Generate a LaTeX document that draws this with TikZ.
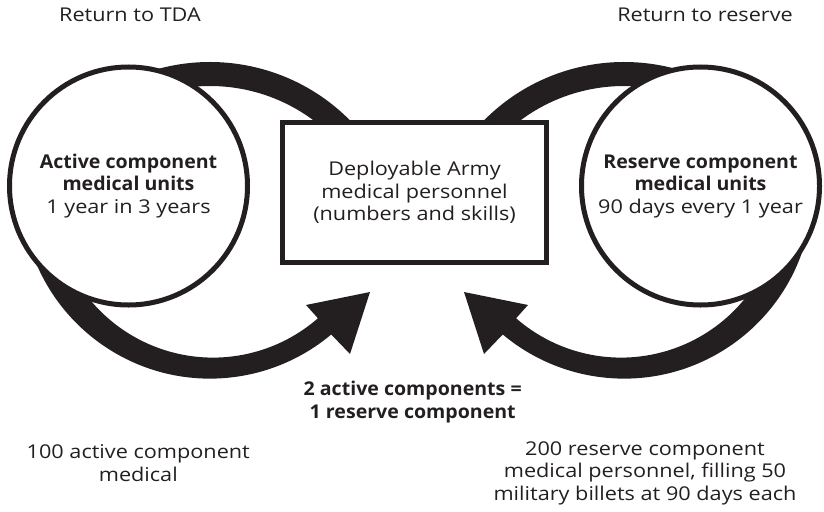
\documentclass[tikz,border=0pt]{standalone}
\usepackage{fontspec}
\setmainfont{Open Sans}[UprightFeatures={FakeStretch=1.14},BoldFeatures={FakeStretch=1.03}]
\usetikzlibrary{calc}
\definecolor{ink}{HTML}{231F20}

\begin{document}
\begin{tikzpicture}[x=1pt,y=-1pt,font=\fontsize{19}{22.5}\selectfont,color=ink]
\tikzstyle{unit} = [circle,draw,line width=5pt,fill=white,minimum size=238pt,align=center]
\tikzstyle{pool} = [rectangle,draw,line width=5pt,fill=white,minimum width=264pt,minimum height=140pt,align=center]
\tikzstyle{band} = [line width=24pt]
\tikzstyle{note} = [align=center]

\useasboundingbox (0,0) rectangle (824,511);

% arc centres and arrow tips
\coordinate (cTL) at (210,259);
\coordinate (cTR) at (624,259);
\coordinate (cBLo) at (210,190);
\coordinate (cBLi) at (213,198);
\coordinate (cBRo) at (624,190);
\coordinate (cBRi) at (621,198);
\coordinate (tipL) at (370,292);
\coordinate (tipR) at (464,292);

% arrows
\draw[band] (cTL) ++(-120:185) arc[start angle=-120,end angle=-40,radius=185];
\draw[band] (cTR) ++(-140:185) arc[start angle=-140,end angle=-60,radius=185];
\fill (cBLo) ++(172:188.6) arc[start angle=172,end angle=50,radius=188.6]
  -- (350,354) -- (tipL) -- (306,305)
  -- ($(cBLi)+(48.9:159.6)$) arc[start angle=48.9,end angle=160,radius=159.6] -- cycle;
\fill (cBRo) ++(8:188.6) arc[start angle=8,end angle=130,radius=188.6]
  -- (484,354) -- (tipR) -- (528,305)
  -- ($(cBRi)+(131.1:159.6)$) arc[start angle=131.1,end angle=20,radius=159.6] -- cycle;

% nodes
\node[unit] (act) at (128.5,186) {\textbf{Active component}\\\textbf{medical units}\\1 year in 3 years};
\node[unit] (res) at (700.5,186) {\textbf{Reserve component}\\\textbf{medical units}\\90 days every 1 year};
\node[pool] (dep) at (414.5,192.5) {Deployable Army\\medical personnel\\(numbers and skills)};

\node (tda) at (130,15) {Return to TDA};
\node (rsv) at (705,15) {Return to reserve};
\node[note,font=\fontsize{19}{22.5}\selectfont\bfseries] (eq) at (412.7,402) {2 active components =\\1 reserve component};
\node[note] (acn) at (138.3,463) {100 active component\\medical};
\node[note] (rcn) at (645,473) {200 reserve component\\medical personnel, filling 50\\military billets at 90 days each};

\end{tikzpicture}
\end{document}
